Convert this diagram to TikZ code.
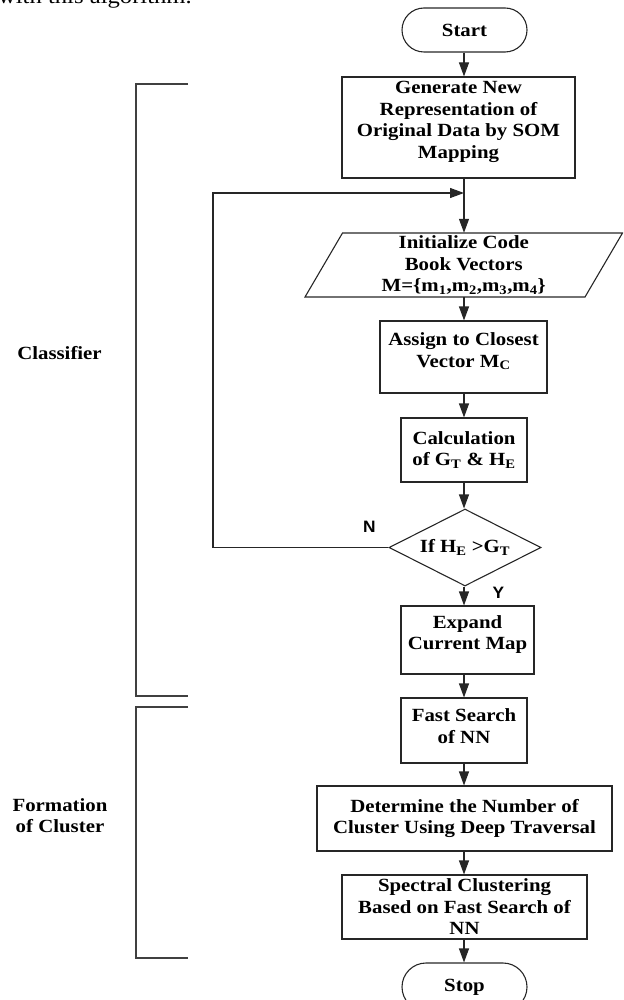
\documentclass[tikz,border=0pt]{standalone}
\usepackage{fontspec}
\setmainfont{Liberation Serif}[FakeStretch=1.12]
\newfontfamily\ynsans{Liberation Sans}[FakeStretch=1.05]
\usetikzlibrary{arrows.meta,calc,shapes.geometric}

\begin{document}
\begin{tikzpicture}[
  x=1pt,y=-1pt,
  font=\bfseries\fontsize{18.6}{21.5}\selectfont,
  stepbox/.style={draw=black!85, line width=1.1pt, align=center, inner sep=0pt},
  terminal/.style={stepbox, rounded corners=22pt, minimum width=125pt, minimum height=44pt},
  decision/.style={stepbox, diamond, aspect=2, minimum width=152pt, minimum height=77pt},
  iobox/.style={draw=black!85, line width=1.1pt, line join=miter},
  flow/.style={black!85, line width=1.1pt, -{Triangle[length=14pt,width=10pt]}},
  bracket/.style={black!75, line width=1.1pt},
  sidelabel/.style={align=center, inner sep=0pt},
  yn/.style={font=\ynsans\bfseries\fontsize{16.5}{19}\selectfont, inner sep=0pt}
]

% Page frame: 623 x 1000, cut as in the scanned figure.
\useasboundingbox (0,0) rectangle (623,1000);
\clip (0,0) rectangle (623,1000);

% Tail of the caption line above the figure.
\node[anchor=base east, inner sep=0pt, font=\mdseries\fontsize{22}{24}\selectfont] (captail) at (192,4)
  {with this algorithm.};

\coordinate (axis) at (464,0);

% ----------------------------- Main flow -----------------------------
\node[terminal] (start) at (464.5,30) {Start};
\node[stepbox, minimum width=233pt, minimum height=101pt, text depth=15pt] (gen) at (458.5,127.5)
  {Generate New\\Representation of\\Original Data by SOM\\Mapping};

\node[sidelabel, minimum width=280pt, minimum height=64pt] (init) at (463.75,265)
  {Initialize Code\\Book Vectors\\M=\{m\textsubscript{1},m\textsubscript{2},m\textsubscript{3},m\textsubscript{4}\}};
\draw[iobox] ($(init.center)+(-121.25,-32)$) -- ($(init.center)+(158.75,-32)$)
  -- ($(init.center)+(121.25,32)$) -- ($(init.center)+(-158.75,32)$) -- cycle;

\node[stepbox, minimum width=167pt, minimum height=72pt, text depth=14pt] (assign) at (463.5,357)
  {Assign to Closest\\Vector M\textsubscript{C}};
\node[stepbox, minimum width=126pt, minimum height=64pt] (calcge) at (464,450)
  {Calculation\\of G\textsubscript{T} \& H\textsubscript{E}};
\node[decision] (test) at (465,547.5) {If H\textsubscript{E} >G\textsubscript{T}};
\node[stepbox, minimum width=133pt, minimum height=68pt, text depth=15pt] (expand) at (467.5,640)
  {Expand\\Current Map};
\node[stepbox, minimum width=126pt, minimum height=65pt, text depth=9pt] (fastnn) at (464,730.5)
  {Fast Search\\of NN};
\node[stepbox, minimum width=295pt, minimum height=65pt] (count) at (464.5,818.5)
  {Determine the Number of\\Cluster Using Deep Traversal};
\node[stepbox, minimum width=245pt, minimum height=64pt] (spectral) at (464.5,907)
  {Spectral Clustering\\Based on Fast Search of\\NN};
\node[terminal, minimum height=48pt, rounded corners=24pt] (stop) at (464.5,987) {Stop};

% Arrows down the main column.
\foreach \a/\b in {start/gen, gen/init, init/assign, assign/calcge, calcge/test,
                   test/expand, expand/fastnn, fastnn/count, count/spectral, spectral/stop}
  \draw[flow] (\a.south -| axis) -- (\b.north -| axis);

% Feedback loop from the test back above the code book step.
\coordinate (join) at (464,193);
\coordinate (back) at (213,193);
\draw[flow] (test.west) -| (back) -- (join);
\node[yn] (no) at ($(test.west)+(-19,-21)$) {N};
\node[yn] (yes) at ($(test.south)+(33.5,6)$) {Y};

% ----------------------------- Side brackets -----------------------------
\draw[bracket] (188,84) -- (136,84) -- (136,696) -- (188,696);
\node[sidelabel] (classifier) at (59.5,353) {Classifier};

\draw[bracket] (188,707) -- (136,707) -- (136,958) -- (188,958);
\node[sidelabel] (formation) at (60,815.5) {Formation\\of Cluster};

\end{tikzpicture}
\end{document}
